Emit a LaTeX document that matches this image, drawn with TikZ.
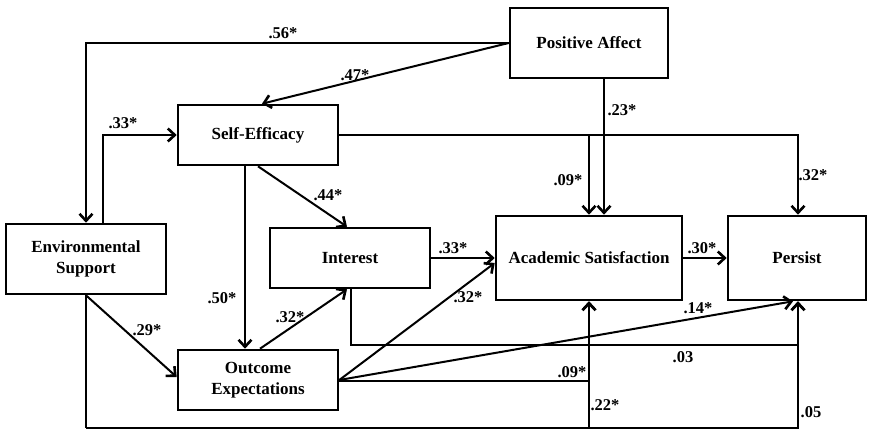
\documentclass[tikz,border=0pt]{standalone}
\usepackage{fontspec}
\setmainfont{Liberation Serif}
\usetikzlibrary{arrows.meta}

\begin{document}
\begin{tikzpicture}[x=1pt,y=-1pt,
  box/.style={draw,line width=2.6pt,align=center,inner sep=0pt,
    font=\bfseries\fontsize{17}{20.5}\selectfont},
  arr/.style={line width=2pt,-{Straight Barb[length=7pt,width=13pt,line width=2.6pt]}},
  ln/.style={line width=2pt},
  lab/.style={inner sep=0pt,font=\bfseries\fontsize{16.5}{18}\selectfont}]
\useasboundingbox (0,0) rectangle (870,430);

% variables
\node[box,minimum width=158pt,minimum height=70pt] (pa) at (589,43) {Positive Affect};
\node[box,minimum width=160pt,minimum height=60pt] (se) at (258,135) {Self-Efficacy};
\node[box,minimum width=160pt,minimum height=70pt] (es) at (86,259) {Environmental\\Support};
\node[box,minimum width=160pt,minimum height=60pt] (int) at (350,258) {Interest};
\node[box,minimum width=160pt,minimum height=60pt] (oe) at (258,380) {Outcome\\Expectations};
\node[box,minimum width=186pt,minimum height=84pt] (as) at (589,258) {Academic Satisfaction};
\node[box,minimum width=138pt,minimum height=84pt] (per) at (797,258) {Persist};

% bottom corner of the support paths
\coordinate (bot) at (86,428);

% paths
\draw[arr] (pa.west) -| (es.north);
\draw[arr] (pa.west) -- ([xshift=4pt]se.north);
\draw[arr] ([xshift=17pt]es.north) |- (se.west);
\draw[arr] (se.east) -| ([xshift=1pt]per.north);
\draw[arr] (se.east) -| (as.north);
\draw[arr] ([xshift=15pt]pa.south) -- ([xshift=15pt]as.north);
\draw[arr] (se.south) -- ([xshift=-3pt]int.north);
\draw[arr] ([xshift=-13pt]se.south) -- ([xshift=-13pt]oe.north);
\draw[arr] (es.south) -- ([yshift=3pt]oe.west);
\draw[arr] ([xshift=2pt]oe.north) -- ([xshift=-3pt]int.south);
\draw[arr] (int.east) -- (as.west);
\draw[arr] (oe.east) -- ([yshift=-5pt]as.west);
\draw[arr] (as.east) -- (per.west);
\draw[arr] (oe.east) -- ([xshift=-4pt]per.south);
\draw[arr] ([xshift=1pt]int.south) -- ++(0,56) -| ([xshift=1pt]per.south);
\draw[arr] ([yshift=-1pt]oe.east) -| (as.south);
\draw[ln] (es.south) -- (bot);
\draw[arr] (bot) -| (as.south);
\draw[arr] (bot) -| ([xshift=1pt]per.south);

% path coefficients
\node[lab] (l1) at (283,33) {.56*};
\node[lab] (l2) at (355,75) {.47*};
\node[lab] (l3) at (123,123) {.33*};
\node[lab] (l4) at (328,195) {.44*};
\node[lab] (l5) at (222,298) {.50*};
\node[lab] (l6) at (147,330) {.29*};
\node[lab] (l7) at (290,317) {.32*};
\node[lab] (l8) at (453,248) {.33*};
\node[lab] (l9) at (468,297) {.32*};
\node[lab] (l10) at (622,110) {.23*};
\node[lab] (l11) at (568,180) {.09*};
\node[lab] (l12) at (813,175) {.32*};
\node[lab] (l13) at (702,248) {.30*};
\node[lab] (l14) at (698,308) {.14*};
\node[lab] (l15) at (683,357) {.03};
\node[lab] (l16) at (572,372) {.09*};
\node[lab] (l17) at (605,405) {.22*};
\node[lab] (l18) at (811,412) {.05};
\end{tikzpicture}
\end{document}
